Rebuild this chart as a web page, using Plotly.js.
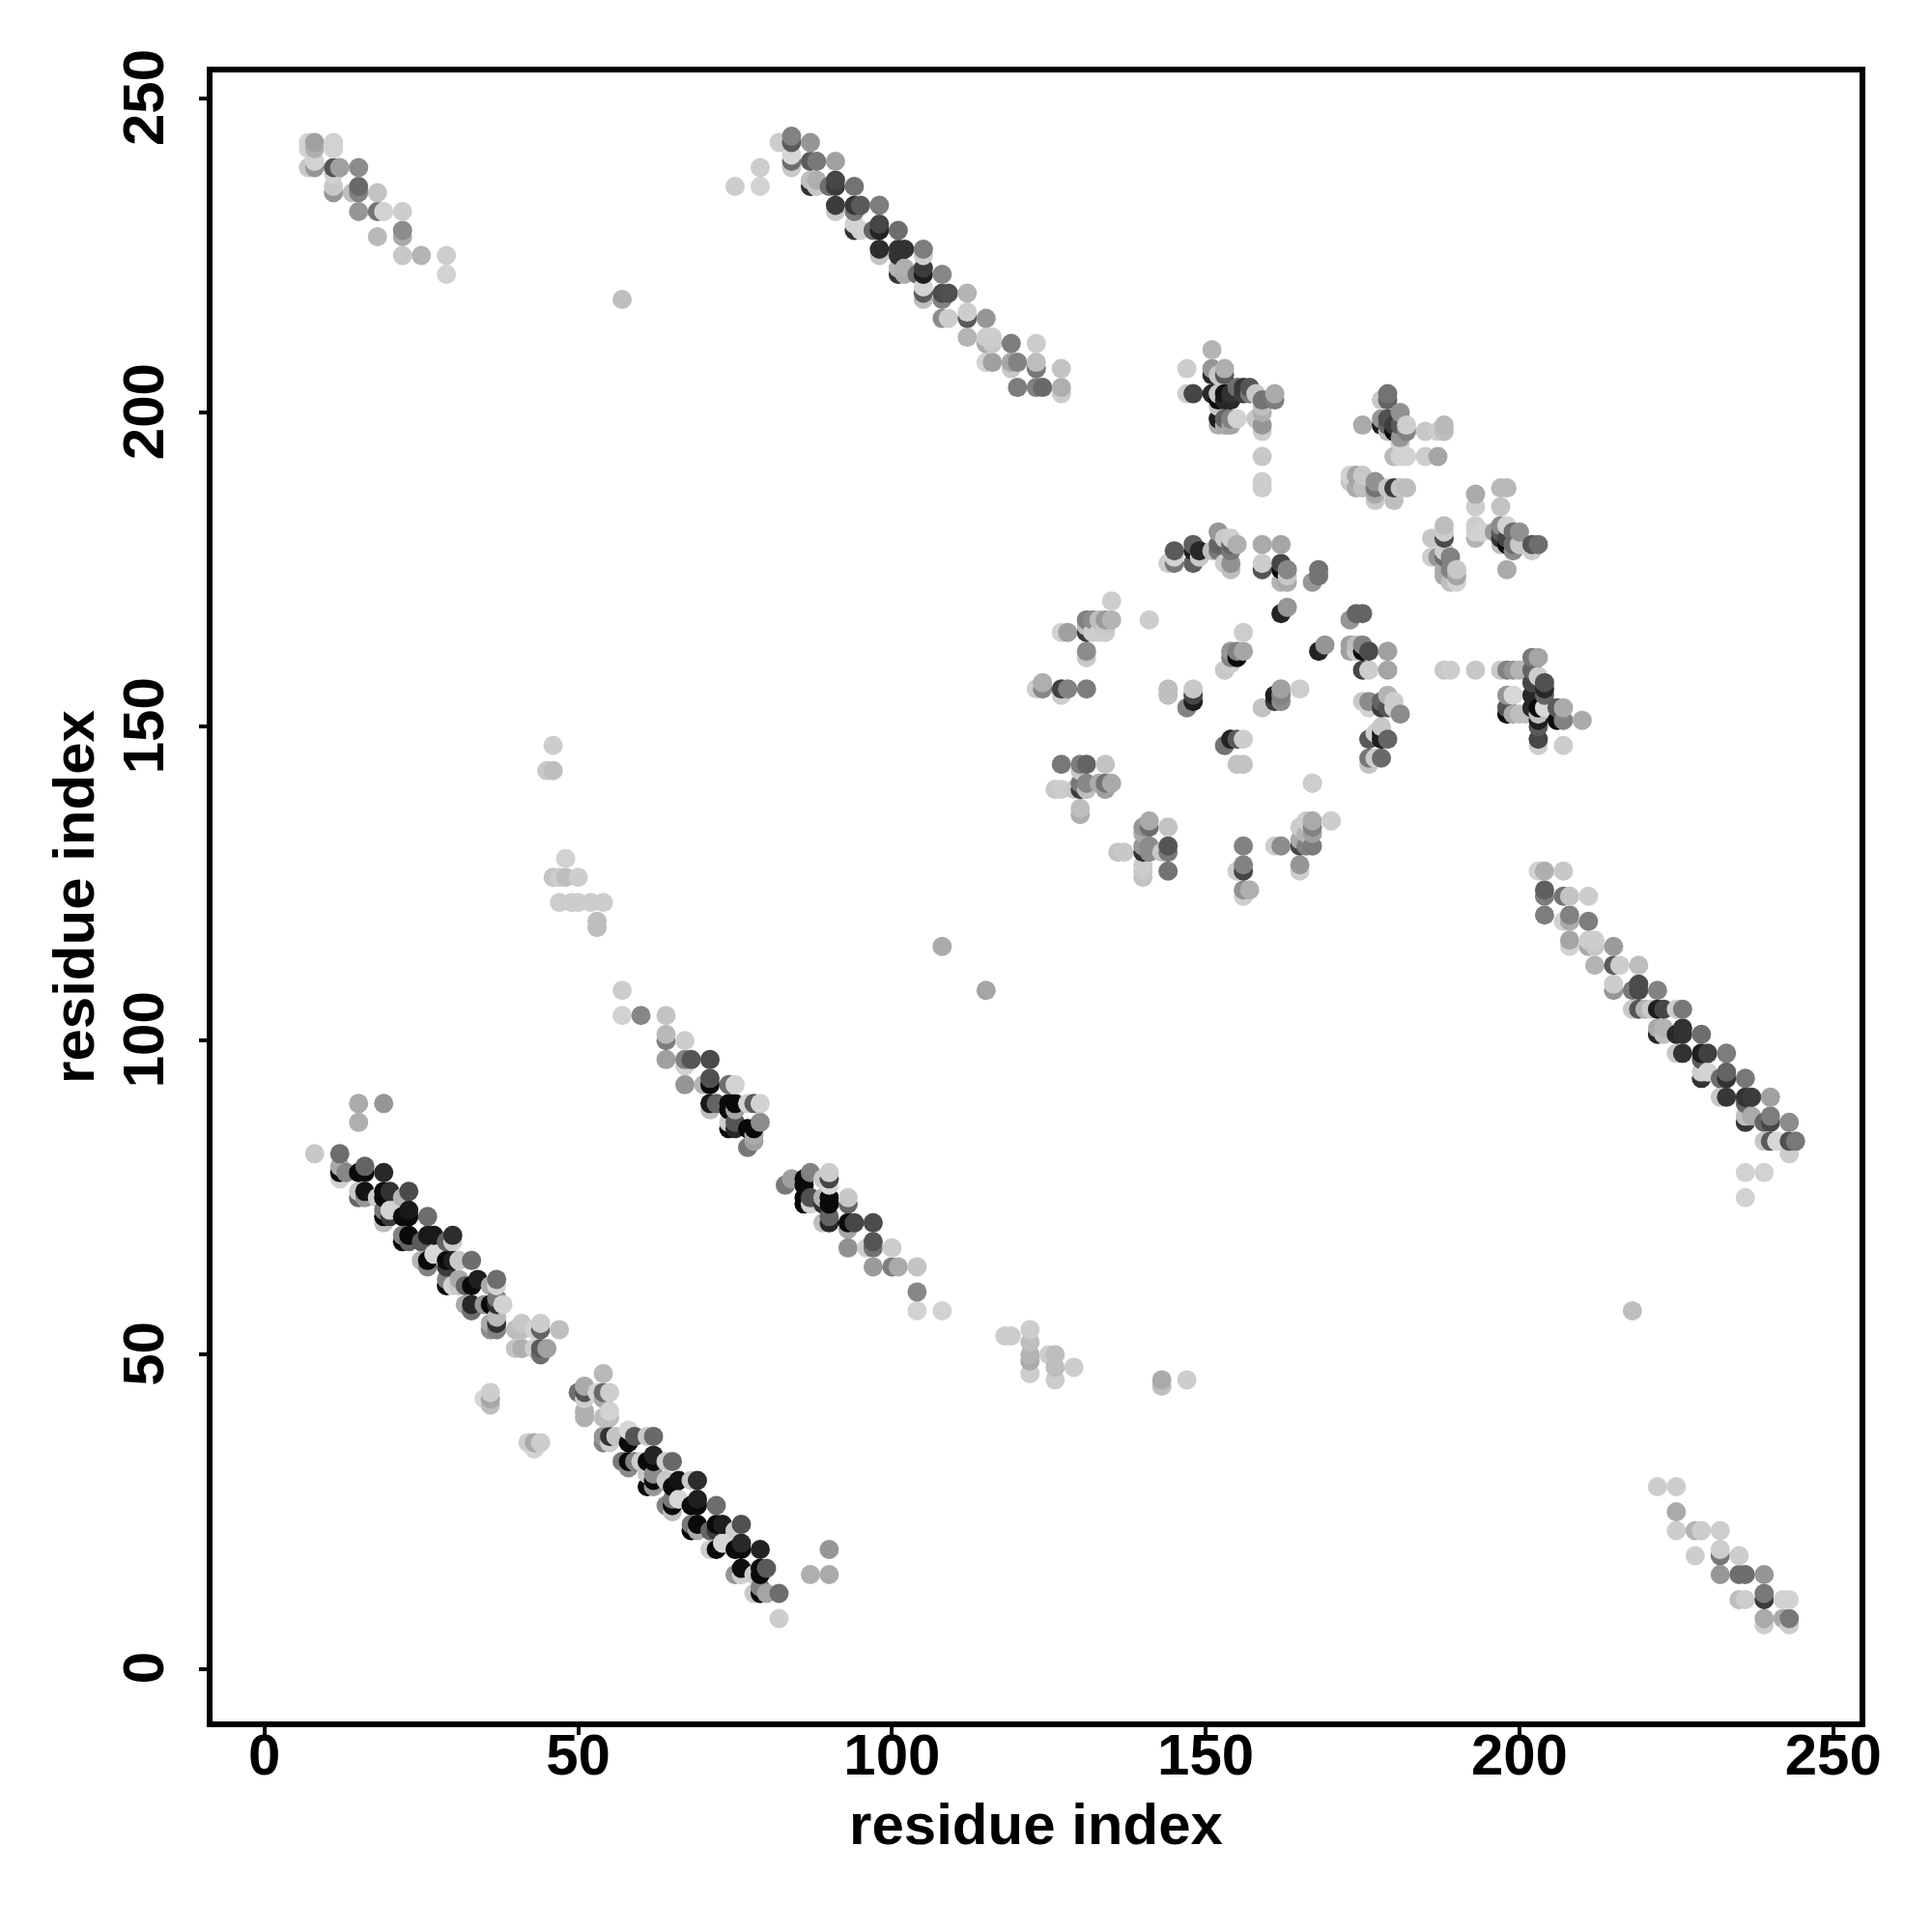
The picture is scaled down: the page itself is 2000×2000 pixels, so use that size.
<!DOCTYPE html>
<html><head><meta charset="utf-8">
<script src="https://cdn.plot.ly/plotly-3.0.1.min.js"></script>
<style>html,body{margin:0;padding:0;background:#fff}</style>
</head><body><div id="chart" style="width:2000px;height:2000px"></div>
<script>
// each contact: [residue x, residue y, grey level of that contact]
const helixA=[[82,8,205],[82,12,110],[80,12,165],[79,12,10],[78,12,200],[79,13,130],[80,16,90],[79,15,10],[79,16,10],[78,15,205],[76,16,15],[76,15,205],[75,15,150],[79,19,35],[76,20,40],[76,19,10],[75,19,10],[73,20,215],[72,19,10],[71,19,205],[76,23,80],[75,22,205],[73,23,30],[72,23,10],[72,22,60],[71,22,100],[72,26,110],[69,26,10],[69,27,30],[68,26,10],[69,23,10],[68,23,120],[68,22,10],[69,22,170],[69,30,45],[68,30,200],[66,30,20],[65,29,10],[66,27,215],[65,27,120],[65,26,10],[64,26,130],[65,25,190],[65,33,105],[64,33,205],[62,34,35],[61,33,10],[62,33,10],[62,31,140],[62,30,10],[61,31,200],[61,29,10],[62,29,150],[64,30,200],[62,37,105],[61,37,200],[59,37,85],[58,38,215],[58,36,10],[56,37,195],[55,37,50],[54,37,150],[54,36,130],[55,36,205],[59,33,130],[58,33,10],[58,32,140],[57,33,120],[60,33,205],[54,47,185],[51,45,170],[50,44,110],[51,44,85],[51,43,205],[54,44,105],[55,44,205],[53,44,210],[54,43,170],[51,41,175],[51,40,175],[55,41,210],[54,40,190],[55,40,190]];
const helixASide=[[36,44,205],[35,43,215],[36,43,165],[36,42,190],[44,36,205],[43,36,170],[42,36,205],[43,35,210],[90,19,150],[87,15,175],[90,15,170]];
const helixB=[[15,90,170],[19,90,150],[15,87,175],[8,82,200],[12,82,110],[12,79,10],[12,80,170],[13,79,135],[12,78,210],[16,80,100],[15,79,10],[16,79,10],[19,79,40],[16,76,20],[15,76,200],[15,75,100],[16,75,150],[18,75,205],[19,76,10],[20,76,50],[19,75,10],[23,76,75],[22,75,180],[20,73,210],[19,73,120],[19,72,10],[19,71,190],[20,72,60],[23,73,25],[22,72,10],[23,72,10],[26,72,110],[23,69,10],[22,69,130],[22,68,10],[23,68,100],[26,69,25],[27,69,25],[25,68,90],[30,69,45],[30,68,205],[29,68,100],[27,66,215],[25,65,180],[26,65,10],[26,64,130],[29,65,10],[29,64,60],[31,65,200],[30,65,30],[33,65,110],[37,62,110],[34,62,30],[33,61,10],[31,62,170],[29,62,130],[29,61,10],[30,61,210],[31,61,200],[32,61,100],[36,61,170],[37,61,210],[38,58,210],[37,58,50],[36,58,10],[37,59,120],[35,58,150],[33,58,40],[32,58,170],[33,57,110],[37,56,185],[37,55,50],[36,55,170],[37,54,130],[36,54,140],[41,55,200],[40,54,190],[41,54,190],[44,55,205],[44,54,100],[43,54,210],[47,54,190],[40,51,195],[41,51,175],[43,51,205],[44,51,90],[45,51,160],[44,50,110]];
const helixC=[[57,108,205],[57,104,210],[60,104,135],[64,104,195],[64,101,185],[64,100,125],[67,100,205],[64,97,160],[67,97,130],[68,97,85],[67,96,210],[71,97,75],[71,94,80],[71,93,10],[67,93,150],[70,93,180],[74,93,110],[75,93,210],[71,90,25],[72,90,100],[71,89,190],[74,90,10],[75,90,10],[75,89,165],[74,89,10],[77,90,210],[78,90,90],[79,90,210],[79,87,140],[78,86,10],[77,86,10],[75,87,85],[74,86,10],[75,86,40],[78,85,170],[74,87,205],[77,83,120],[78,84,160]];
const helixD=[[83,77,120],[84,78,160],[86,78,10],[86,77,10],[87,79,130],[90,79,205],[90,78,70],[90,77,215],[89,78,200],[86,75,10],[87,75,80],[86,74,10],[87,74,210],[90,75,10],[90,74,10],[89,74,50],[89,75,180],[93,75,200],[93,74,100],[90,72,100],[90,71,40],[89,71,190],[93,71,10],[94,71,70],[93,70,165],[97,71,75],[97,68,85],[97,67,115],[93,67,145],[96,67,205],[100,67,205],[97,64,155],[100,64,125],[101,64,170],[104,64,195],[104,60,135],[104,57,210],[108,57,210]];
const cornerTopLeft=[[7,243,210],[7,242,210],[8,243,160],[8,242,175],[11,243,210],[11,242,210],[7,239,200],[8,239,150],[8,240,210],[11,239,85],[12,239,160],[15,239,140],[11,238,210],[11,236,200],[11,235,150],[14,235,190],[15,236,105],[15,235,130],[18,235,195],[15,232,150],[18,232,115],[19,232,210],[22,232,205],[18,228,185],[22,229,140],[22,228,170],[22,225,200],[25,225,180],[29,225,205],[29,222,210],[57,218,190]];
const helixE=[[75,236,205],[79,236,210],[79,239,205],[82,243,205],[84,244,130],[84,243,90],[87,243,150],[84,241,215],[84,240,110],[84,239,200],[87,240,90],[88,240,120],[91,240,160],[87,237,190],[87,236,50],[88,237,175],[88,236,200],[91,237,70],[91,236,60],[90,236,110],[94,236,115],[91,233,60],[91,232,200],[94,233,55],[95,233,90],[94,232,120],[98,233,125],[94,230,210],[94,229,50],[95,229,210],[98,230,70],[98,229,35],[97,229,100],[101,229,110],[98,226,45],[98,225,195],[101,226,50],[102,226,50],[101,225,50],[105,226,125],[105,225,205],[101,223,180],[101,222,50],[102,223,175],[102,222,170],[104,222,110],[105,223,60],[105,222,30],[108,222,135],[105,220,210],[105,219,90],[105,218,190],[108,219,75],[109,219,80],[108,218,130],[112,219,180],[108,215,140],[109,215,205],[112,216,205],[112,215,90],[115,215,150],[112,212,180],[115,212,205],[116,212,205],[115,211,170],[116,211,200],[119,211,125],[123,211,205],[115,208,210],[116,208,160],[119,208,165],[120,208,130],[119,207,200],[123,208,190],[123,207,120],[127,207,195],[120,204,125],[123,204,130],[124,204,105],[127,204,175],[127,203,205]];
const helixF=[[203,127,210],[204,127,175],[207,127,200],[204,124,95],[204,123,125],[207,123,115],[208,123,195],[211,123,205],[204,120,125],[207,119,210],[208,120,130],[208,119,170],[211,119,125],[208,116,165],[208,115,210],[211,116,205],[212,116,205],[211,115,170],[212,115,200],[215,115,155],[212,112,180],[215,112,90],[216,112,205],[219,112,190],[215,109,205],[215,108,150],[218,108,120],[219,109,75],[219,108,75],[222,108,130],[218,105,200],[219,105,85],[220,105,180],[221,105,200],[222,105,30],[223,105,70],[225,105,205],[226,105,120],[222,102,170],[222,101,40],[223,102,180],[223,101,190],[225,101,40],[226,102,50],[226,101,50],[229,101,110],[225,98,200],[226,98,50],[229,98,30],[230,98,65],[229,97,90],[233,98,125],[229,95,205],[230,95,210],[229,94,50],[232,94,110],[233,95,100],[233,94,50],[236,94,120],[232,91,200],[233,91,55],[236,91,50],[237,91,60],[236,90,100],[240,91,160],[236,88,190],[236,87,55],[237,88,170],[239,87,100],[240,88,125],[240,87,70],[243,87,140],[239,84,200],[240,84,90],[241,84,215],[243,84,80],[244,84,120],[243,82,205],[236,79,210],[239,79,210],[236,75,210]];
const clusterMidRight=[[174,168,100],[175,168,100],[173,167,150],[169,163,150],[168,162,35],[173,163,160],[174,163,190],[175,163,130],[173,162,160],[174,162,200],[175,162,10],[176,162,75],[179,162,160],[175,159,70],[176,159,205],[179,159,165],[188,159,200],[189,159,205],[193,159,200],[197,159,200],[198,159,130],[199,159,150],[200,159,180],[202,161,120],[203,161,165],[202,159,100],[203,158,205],[204,157,80],[204,156,40],[204,155,100],[202,157,70],[202,155,40],[202,153,40],[203,153,10],[204,153,215],[203,152,190],[203,151,30],[203,150,90],[198,155,150],[199,155,215],[198,153,85],[198,152,10],[199,152,170],[200,152,190],[201,152,190],[206,153,90],[207,153,170],[206,151,10],[207,151,130],[210,151,170],[203,148,70],[203,147,205],[207,147,205]];
const clusterStrand=[[175,154,200],[176,154,140],[176,153,210],[178,154,100],[179,155,180],[178,153,60],[179,153,85],[180,154,205],[180,153,205],[181,152,140],[178,150,200],[176,148,90],[177,149,210],[178,149,30],[178,148,30],[179,148,100],[176,145,120],[176,144,195],[177,145,205],[178,145,105],[167,141,205],[170,135,205]];
const clusterTop=[[151,210,180],[147,207,205],[151,207,150],[153,207,175],[151,206,40],[153,206,90],[152,206,200],[147,203,205],[148,203,70],[151,203,40],[152,203,200],[153,203,20],[154,203,50],[155,204,110],[156,204,55],[157,204,85],[156,203,60],[157,203,120],[158,203,200],[159,202,115],[161,203,170],[161,202,125],[159,201,190],[159,200,175],[159,198,150],[159,197,205],[152,202,10],[153,202,40],[154,202,40],[152,201,200],[152,199,30],[152,198,175],[153,199,100],[154,199,130],[155,199,210],[154,198,165],[153,198,170],[158,199,200],[159,193,200],[159,189,205],[159,188,205]];
const clusterCentreTop=[[152,181,150],[153,180,200],[154,180,205],[155,179,175],[152,179,100],[153,179,100],[154,179,100],[151,178,190],[152,178,120],[154,178,120],[154,176,145],[153,176,205],[154,175,190],[145,178,90],[145,177,210],[145,176,120],[144,176,205],[148,179,95],[148,178,30],[149,178,40],[148,176,95],[149,177,200],[159,179,170],[162,179,165],[159,176,205],[159,175,85],[162,176,70],[162,175,10],[163,175,135],[162,173,180],[163,173,170],[163,174,200],[168,175,115],[168,174,115],[167,173,150],[163,169,150],[162,168,35]];
const clusterRing=[[135,170,205],[141,167,205],[131,167,130],[132,167,140],[133,167,190],[134,167,155],[135,167,180],[131,166,190],[134,166,200],[131,165,60],[132,165,205],[133,165,205],[134,165,205],[127,165,210],[128,165,160],[131,162,140],[131,161,200],[124,157,175],[124,156,135],[123,156,205],[127,156,65],[127,155,205],[128,156,130],[131,156,125],[144,156,190],[144,155,190],[148,156,200],[148,155,70],[148,154,30],[147,153,130],[156,165,205],[154,162,150],[155,161,10],[155,162,130],[156,162,165],[154,161,130],[153,159,200],[154,160,205],[161,155,30],[162,156,160],[162,154,140],[161,154,60],[165,156,205],[159,153,195],[162,155,130],[153,147,115],[154,148,35],[155,148,90],[156,148,205],[155,144,195],[156,144,195],[127,144,120],[130,144,125],[131,144,100],[134,144,195],[126,140,200],[127,140,205],[130,143,200],[130,141,120],[131,141,135],[130,140,60],[131,140,190],[133,141,170],[134,141,115],[135,141,170],[134,140,160],[129,140,200],[130,137,190],[130,136,175],[167,141,205]];
const clusterRingLow=[[141,135,170],[141,134,110],[140,134,150],[140,133,170],[144,134,195],[144,131,85],[144,130,120],[140,131,150],[141,131,140],[140,130,50],[141,130,140],[143,130,200],[136,130,195],[137,130,200],[144,127,115],[140,127,200],[140,126,195],[140,128,205],[156,131,130],[156,128,130],[156,127,70],[155,127,205],[156,124,145],[156,123,205],[157,124,175],[161,131,205],[162,131,140],[165,131,70],[165,128,150],[165,127,205],[167,135,170],[167,134,130],[167,133,160],[167,131,125],[166,135,205],[166,133,180],[166,131,130],[165,134,205],[165,132,170],[170,135,205]];
const clusterUpperRight=[[179,203,115],[179,202,100],[178,202,200],[178,199,150],[181,200,145],[179,199,80],[178,198,30],[179,198,100],[180,198,60],[181,198,90],[182,198,205],[182,197,130],[179,197,190],[180,197,10],[181,196,150],[175,198,170],[185,197,200],[188,198,185],[188,197,190],[187,197,205],[180,193,185],[181,193,210],[182,193,210],[185,193,205],[187,193,165],[181,195,210],[173,190,210],[174,190,165],[175,190,200],[173,189,200],[174,188,170],[177,189,145],[177,188,115],[177,187,170],[177,186,200],[175,188,190],[180,188,60],[179,188,200],[181,188,195],[182,188,190],[180,186,190]];
const clusterFarRight=[[188,182,190],[188,181,205],[188,180,75],[186,180,200],[188,178,205],[186,177,205],[187,177,150],[188,177,110],[189,177,130],[188,175,170],[188,174,170],[190,175,200],[190,174,165],[189,175,130],[190,173,210],[189,173,190],[193,187,170],[193,185,205],[193,182,205],[193,181,210],[193,180,180],[194,181,210],[197,188,185],[198,188,185],[197,185,195],[196,181,155],[197,182,140],[198,182,210],[197,181,90],[197,180,50],[198,180,70],[199,181,110],[200,181,145],[198,179,10],[199,179,110],[197,179,190],[200,179,200],[202,179,85],[203,179,110],[202,178,205],[199,178,140],[198,175,170]];
const cornerBottomRight=[[222,29,205],[225,29,205],[225,25,170],[225,22,205],[228,22,180],[229,22,205],[232,22,205],[228,18,205],[232,19,205],[232,18,120],[235,18,205],[232,15,150],[235,15,110],[236,15,110],[239,15,150],[235,11,190],[236,11,205],[239,12,120],[239,11,60],[242,11,210],[243,11,210],[239,8,170],[239,7,205],[242,8,170],[243,8,120],[243,7,205],[218,57,190]];
const scatterMid=[[108,115,170],[115,108,165],[46,147,205],[45,143,200],[46,143,190],[48,129,210],[46,126,195],[47,126,205],[48,126,190],[50,126,205],[47,122,205],[49,122,205],[50,122,205],[52,122,205],[54,122,205],[53,119,190],[53,118,190],[118,53,205],[119,53,205],[122,54,205],[122,52,190],[122,50,180],[122,49,170],[122,47,205],[125,50,205],[126,50,190],[126,48,190],[126,46,205],[129,48,205],[143,46,170],[143,45,190],[147,46,205]];
const tickValues=[0,50,100,150,200,250];
const axisTitle="residue index";

const contacts=[].concat(helixA,helixASide,helixB,helixC,helixD,cornerTopLeft,helixE,helixF,clusterMidRight,clusterStrand,clusterTop,clusterCentreTop,clusterRing,clusterRingLow,clusterUpperRight,clusterFarRight,cornerBottomRight,scatterMid);
// painted in residue order: higher x, then higher y, sits on top
contacts.sort((a,b)=>a[0]-b[0]||a[1]-b[1]);

const tickFont={family:"Liberation Sans",size:60,color:"#000",weight:700};
const axisBase={
  showgrid:false,zeroline:false,showline:true,mirror:true,linecolor:"#000",linewidth:6,
  ticks:"outside",ticklen:8,tickwidth:4,tickcolor:"#000",
  tickmode:"array",tickvals:tickValues,ticktext:tickValues.map(String),tickfont:tickFont
};
Plotly.newPlot("chart",[{
  type:"scatter",mode:"markers",
  x:contacts.map(c=>c[0]),y:contacts.map(c=>c[1]),
  marker:{size:20,color:contacts.map(c=>c[2]),cmin:0,cmax:255,
    colorscale:[[0,"#000"],[1,"#fff"]],showscale:false,line:{width:0}},
  hoverinfo:"skip"
}],{
  width:2000,height:2000,margin:{l:219.5,r:74.5,t:75,b:218,pad:0},
  paper_bgcolor:"#fff",plot_bgcolor:"#fff",showlegend:false,
  xaxis:Object.assign({},axisBase,{range:[-8.28,254.2],ticklabelstandoff:-31,title:{text:axisTitle,font:tickFont,standoff:20}}),
  yaxis:Object.assign({},axisBase,{range:[-8.38,254.15],tickangle:-90,ticklabelstandoff:13,ticklabelshift:8,title:{text:axisTitle,font:tickFont,standoff:0}})
},{staticPlot:true});
</script></body></html>
